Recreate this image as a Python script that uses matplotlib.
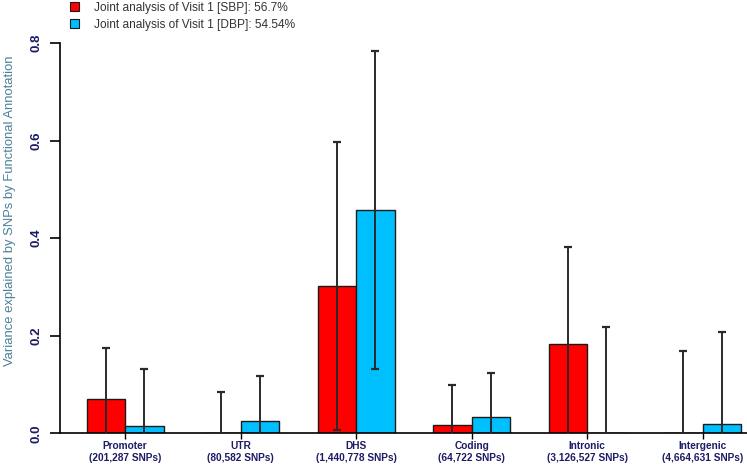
import numpy as np
import matplotlib.pyplot as plt
from matplotlib.patches import Patch

plt.rcParams['font.family'] = ['Liberation Sans', 'DejaVu Sans']

categories = ['Promoter', 'UTR', 'DHS', 'Coding', 'Intronic', 'Intergenic']
snp_counts = ['201,287', '80,582', '1,440,778', '64,722', '3,126,527', '4,664,631']

sbp_values = [0.070, 0.0, 0.302, 0.016, 0.184, 0.0]
sbp_errors = [0.105, 0.085, 0.296, 0.084, 0.198, 0.169]
dbp_values = [0.014, 0.025, 0.458, 0.033, 0.0, 0.020]
dbp_errors = [0.118, 0.092, 0.326, 0.091, 0.218, 0.188]

legend_labels = ['Joint analysis of Visit 1 [SBP]: 56.7%',
                 'Joint analysis of Visit 1 [DBP]: 54.54%']

RED = '#ff0000'
BLUE = '#00bfff'
NAVY = '#1c1c66'

W, H = 747, 466
fig = plt.figure(figsize=(W / 100, H / 100), dpi=100)

# axes placed in pixel units (right side runs off the figure like the original)
left, right, bottom, top = 60.5, 767.4, 433.3, 43.0
ax = fig.add_axes([left / W, 1 - bottom / H, (right - left) / W, (bottom - top) / H])

n = len(categories)
x_red = 1.5 + 3 * np.arange(n)
x_blue = 2.5 + 3 * np.arange(n)

ax.bar(x_red, sbp_values, width=1.0, color=RED, edgecolor='#1a1a1a', linewidth=1.0, zorder=2)
ax.bar(x_blue, dbp_values, width=1.0, color=BLUE, edgecolor='#1a1a1a', linewidth=1.0, zorder=2)

for xs, vals, errs in [(x_red, sbp_values, sbp_errors), (x_blue, dbp_values, dbp_errors)]:
    ax.errorbar(xs, vals, yerr=errs, fmt='none', ecolor='#2a2a2a', elinewidth=1.4,
                capsize=3, capthick=1.6, zorder=3)

ax.set_xlim(0.32, 18.68)
ax.set_ylim(0, 0.8)

for s in ['top', 'right']:
    ax.spines[s].set_visible(False)
ax.spines['bottom'].set_linewidth(1.2)
ax.spines['left'].set_linewidth(1.2)

ax.set_yticks([0.0, 0.2, 0.4, 0.6, 0.8])
ax.set_yticklabels(['0.0', '0.2', '0.4', '0.6', '0.8'], rotation=90, va='center',
                   fontsize=9.5, fontweight='bold', color=NAVY)
ax.tick_params(axis='y', length=7, width=1.2, pad=6)

ax.set_xticks(2 + 3 * np.arange(n))
ax.set_xticklabels([f'{c}\n({s} SNPs)' for c, s in zip(categories, snp_counts)],
                   fontsize=7.3, fontweight='bold', color=NAVY, linespacing=1.25)
ax.tick_params(axis='x', length=4, width=1.0, pad=1.5)

fig.text(10 / W, 1 - 211 / H, 'Variance explained by SNPs by Functional Annotation',
         rotation=90, ha='center', va='center', fontsize=9.4, color='#4a8098')

handles = [Patch(facecolor=RED, edgecolor='#1a1a1a', linewidth=0.8),
           Patch(facecolor=BLUE, edgecolor='#1a1a1a', linewidth=0.8)]
fig.legend(handles, legend_labels, loc='upper left', bbox_to_anchor=(64 / W, 1.0 + 4 / H),
           frameon=False, fontsize=8.6, handlelength=0.75, handleheight=0.75,
           handletextpad=1.3, labelspacing=0.4, borderaxespad=0.1,
           labelcolor='#333333')

fig.savefig('out.png', dpi=100)
